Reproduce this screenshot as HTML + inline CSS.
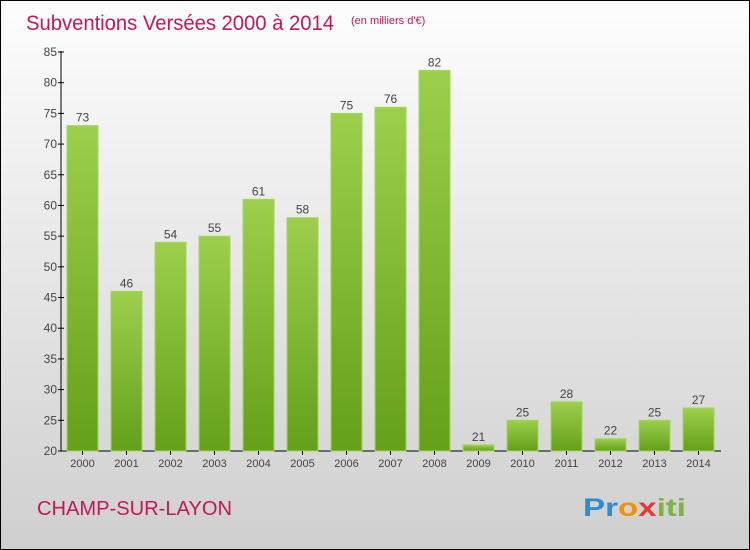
<!DOCTYPE html>
<html><head><meta charset="utf-8"><style>
body{margin:0}
#c{position:relative;width:748px;height:548px;border:1px solid #000;background:linear-gradient(#fdfdfd,#cfcfcf);font-family:"Liberation Sans",sans-serif;overflow:hidden}
</style></head><body>
<div id="c">
<svg id="s" width="748" height="548" font-family="Liberation Sans, sans-serif">
<defs><linearGradient id="g" x1="0" y1="0" x2="0" y2="1"><stop offset="0" stop-color="#9ccf4c"/><stop offset="1" stop-color="#64a01a"/></linearGradient></defs>
<text x="25" y="29" font-size="21" fill="#c2185b" textLength="308" lengthAdjust="spacingAndGlyphs">Subventions Versées 2000 à 2014</text>
<text x="350" y="23" font-size="11" fill="#c2185b">(en milliers d'€)</text>
<text x="36" y="514" font-size="20" fill="#c2185b" textLength="195" lengthAdjust="spacingAndGlyphs">CHAMP-SUR-LAYON</text>
<text x="582" y="515" font-size="25" font-weight="bold" textLength="103" lengthAdjust="spacingAndGlyphs"><tspan fill="#2a8bd6">Pr</tspan><tspan fill="#f39200">o</tspan><tspan fill="#e53935">x</tspan><tspan fill="#7cb342">iti</tspan></text>
</svg>
</div>
<script>
const categories=["2000","2001","2002","2003","2004","2005","2006","2007","2008","2009","2010","2011","2012","2013","2014"];
const values=[73,46,54,55,61,58,75,76,82,21,25,28,22,25,27];
const yTicks=[20,25,30,35,40,45,50,55,60,65,70,75,80,85];
const s=document.getElementById('s');const NS='http://www.w3.org/2000/svg';
const y=v=>450-(v-20)*(399/65);
const x=i=>66+i*44;
function mk(t,a,p){const e=document.createElementNS(NS,t);for(const k in a)e.setAttribute(k,a[k]);(p||s).appendChild(e);return e;}
const ax=mk('line',{x1:60,y1:50,x2:60,y2:450,stroke:'#000'});


const bx=mk('line',{x1:60,y1:450,x2:720,y2:450,stroke:'#000'});


yTicks.forEach(t=>{mk('line',{x1:57,x2:63,y1:y(t),y2:y(t),stroke:'#000'});
const tx=mk('text',{x:56,y:y(t)+4,'font-size':12,fill:'#444','text-anchor':'end'});tx.textContent=t;

});
categories.forEach((c,i)=>{const v=values[i];
const r=mk('rect',{x:x(i),y:y(v),width:31,height:450-y(v),fill:'url(#g)',stroke:'#a6d45c','stroke-width':1});


const l=mk('text',{x:x(i)+15.5,y:y(v)-4,'font-size':12,fill:'#444','text-anchor':'middle'});l.textContent=v;


mk('line',{x1:x(i)+15.5,x2:x(i)+15.5,y1:450,y2:454,stroke:'#000'});
const xl=mk('text',{x:x(i)+15.5,y:466,'font-size':11,fill:'#444','text-anchor':'middle'});xl.textContent=c;

});
</script>
</body></html>
